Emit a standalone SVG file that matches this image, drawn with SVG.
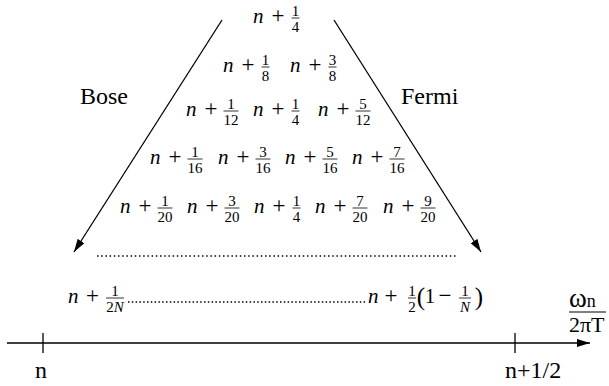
<svg xmlns="http://www.w3.org/2000/svg" width="609" height="386" viewBox="0 0 609 386" font-family="'Liberation Serif', 'Times New Roman', 'DejaVu Serif', serif">
<defs>
<style>
text{font-family:'Liberation Serif','Times New Roman','DejaVu Serif',serif;fill:#000}
.m{font-style:italic;font-size:21px}
.o{font-size:23px;text-anchor:middle}
.f{font-size:15px;text-anchor:middle}
.lbl{font-size:24px}
.bar{stroke:#000;stroke-width:0.8}
.ln{stroke:#000;stroke-width:1.3;fill:none}
.dots{stroke:#000;stroke-width:1.5;fill:none}
</style>
<marker id="ah" viewBox="0 0 13 8" refX="13" refY="4" markerWidth="13" markerHeight="8" markerUnits="userSpaceOnUse" orient="auto">
<path d="M0,0 L13,4 L0,8 Z" fill="#000"/>
</marker>
</defs>
<rect width="609" height="386" fill="#fff"/>

<g id="connectors">
<line class="ln" x1="222" y1="20" x2="74" y2="252" marker-end="url(#ah)"/>
<line class="ln" x1="334" y1="20" x2="481" y2="252" marker-end="url(#ah)"/>
<line class="ln" x1="7" y1="343" x2="590" y2="343" marker-end="url(#ah)"/>
<line class="ln" x1="43" y1="333" x2="43" y2="353"/>
<line class="ln" x1="515" y1="333" x2="515" y2="353"/>
</g>

<g id="bose"><text class="lbl" x="80" y="104">Bose</text></g>
<g id="fermi"><text class="lbl" x="401" y="104">Fermi</text></g>

<!-- row 1 -->
<g id="r1t1" transform="translate(253,23)"><text class="m" x="0" y="0">n</text><text class="o" x="25" y="0">+</text><text class="f" x="42.5" y="-7.5">1</text><line class="bar" x1="38.5" x2="46.5" y1="-5" y2="-5"/><text class="f" x="42.5" y="9">4</text></g>

<!-- row 2 -->
<g id="r2t1" transform="translate(223,72)"><text class="m" x="0" y="0">n</text><text class="o" x="25" y="0">+</text><text class="f" x="42.5" y="-7.5">1</text><line class="bar" x1="38.5" x2="46.5" y1="-5" y2="-5"/><text class="f" x="42.5" y="9">8</text></g>
<g id="r2t2" transform="translate(290,72)"><text class="m" x="0" y="0">n</text><text class="o" x="25" y="0">+</text><text class="f" x="42.5" y="-7.5">3</text><line class="bar" x1="38.5" x2="46.5" y1="-5" y2="-5"/><text class="f" x="42.5" y="9">8</text></g>

<!-- row 3 -->
<g id="r3t1" transform="translate(186,116)"><text class="m" x="0" y="0">n</text><text class="o" x="25" y="0">+</text><text class="f" x="45" y="-7.5">1</text><line class="bar" x1="37.5" x2="52.5" y1="-5" y2="-5"/><text class="f" x="45" y="9">12</text></g>
<g id="r3t2" transform="translate(253,116)"><text class="m" x="0" y="0">n</text><text class="o" x="25" y="0">+</text><text class="f" x="42.5" y="-7.5">1</text><line class="bar" x1="38.5" x2="46.5" y1="-5" y2="-5"/><text class="f" x="42.5" y="9">4</text></g>
<g id="r3t3" transform="translate(318,116)"><text class="m" x="0" y="0">n</text><text class="o" x="25" y="0">+</text><text class="f" x="45" y="-7.5">5</text><line class="bar" x1="37.5" x2="52.5" y1="-5" y2="-5"/><text class="f" x="45" y="9">12</text></g>

<!-- row 4 -->
<g id="r4t1" transform="translate(150,164)"><text class="m" x="0" y="0">n</text><text class="o" x="25" y="0">+</text><text class="f" x="45" y="-7.5">1</text><line class="bar" x1="37.5" x2="52.5" y1="-5" y2="-5"/><text class="f" x="45" y="9">16</text></g>
<g id="r4t2" transform="translate(218,164)"><text class="m" x="0" y="0">n</text><text class="o" x="25" y="0">+</text><text class="f" x="45" y="-7.5">3</text><line class="bar" x1="37.5" x2="52.5" y1="-5" y2="-5"/><text class="f" x="45" y="9">16</text></g>
<g id="r4t3" transform="translate(285,164)"><text class="m" x="0" y="0">n</text><text class="o" x="25" y="0">+</text><text class="f" x="45" y="-7.5">5</text><line class="bar" x1="37.5" x2="52.5" y1="-5" y2="-5"/><text class="f" x="45" y="9">16</text></g>
<g id="r4t4" transform="translate(352,164)"><text class="m" x="0" y="0">n</text><text class="o" x="25" y="0">+</text><text class="f" x="45" y="-7.5">7</text><line class="bar" x1="37.5" x2="52.5" y1="-5" y2="-5"/><text class="f" x="45" y="9">16</text></g>

<!-- row 5 -->
<g id="r5t1" transform="translate(120,213)"><text class="m" x="0" y="0">n</text><text class="o" x="25" y="0">+</text><text class="f" x="45" y="-7.5">1</text><line class="bar" x1="37.5" x2="52.5" y1="-5" y2="-5"/><text class="f" x="45" y="9">20</text></g>
<g id="r5t2" transform="translate(187,213)"><text class="m" x="0" y="0">n</text><text class="o" x="25" y="0">+</text><text class="f" x="45" y="-7.5">3</text><line class="bar" x1="37.5" x2="52.5" y1="-5" y2="-5"/><text class="f" x="45" y="9">20</text></g>
<g id="r5t3" transform="translate(254,213)"><text class="m" x="0" y="0">n</text><text class="o" x="25" y="0">+</text><text class="f" x="42.5" y="-7.5">1</text><line class="bar" x1="38.5" x2="46.5" y1="-5" y2="-5"/><text class="f" x="42.5" y="9">4</text></g>
<g id="r5t4" transform="translate(315,213)"><text class="m" x="0" y="0">n</text><text class="o" x="25" y="0">+</text><text class="f" x="45" y="-7.5">7</text><line class="bar" x1="37.5" x2="52.5" y1="-5" y2="-5"/><text class="f" x="45" y="9">20</text></g>
<g id="r5t5" transform="translate(383,213)"><text class="m" x="0" y="0">n</text><text class="o" x="25" y="0">+</text><text class="f" x="45" y="-7.5">9</text><line class="bar" x1="37.5" x2="52.5" y1="-5" y2="-5"/><text class="f" x="45" y="9">20</text></g>

<!-- row 6 dots -->
<g id="r6"><line class="dots" x1="97" y1="256" x2="456" y2="256" stroke-dasharray="1.5 2.7"/></g>

<!-- row 7 -->
<g id="r7left" transform="translate(68,303)"><text class="m" x="0" y="0">n</text><text class="o" x="24.5" y="0">+</text><text class="f" x="47" y="-7.5">1</text><line class="bar" x1="38" x2="56" y1="-5" y2="-5"/><text class="f" x="47" y="9">2<tspan style="font-style:italic">N</tspan></text></g>
<g id="r7dots"><line class="dots" x1="128" y1="302" x2="367" y2="302" stroke-dasharray="1.5 2.3"/></g>
<g id="r7right" transform="translate(368,303)"><text class="m" x="0" y="0">n</text><text class="o" x="23" y="0">+</text><text class="f" x="44" y="-7.5">1</text><line class="bar" x1="40" x2="48" y1="-5" y2="-5"/><text class="f" x="44" y="9">2</text><text class="o" x="53" y="2" style="font-size:25px">(</text><text class="o" x="62" y="0" style="font-size:21px">1</text><text class="o" x="77" y="0">−</text><text class="f" x="97" y="-7.5">1</text><line class="bar" x1="91" x2="103" y1="-5" y2="-5"/><text class="f" x="97" y="9" style="font-style:italic">N</text><text class="o" x="111" y="2" style="font-size:25px">)</text></g>

<!-- axis labels -->
<g id="lbl-n"><text class="lbl" x="35" y="378">n</text></g>
<g id="lbl-nhalf"><text class="lbl" x="505" y="378">n+1/2</text></g>
<g id="lbl-omega"><text class="lbl" x="569" y="307" style="font-size:27px">ω<tspan style="font-size:18px">n</tspan></text><line class="bar" x1="569" x2="606" y1="312" y2="312" style="stroke-width:1.2"/><text class="lbl" x="569" y="332" style="font-size:22px">2πT</text></g>
</svg>
